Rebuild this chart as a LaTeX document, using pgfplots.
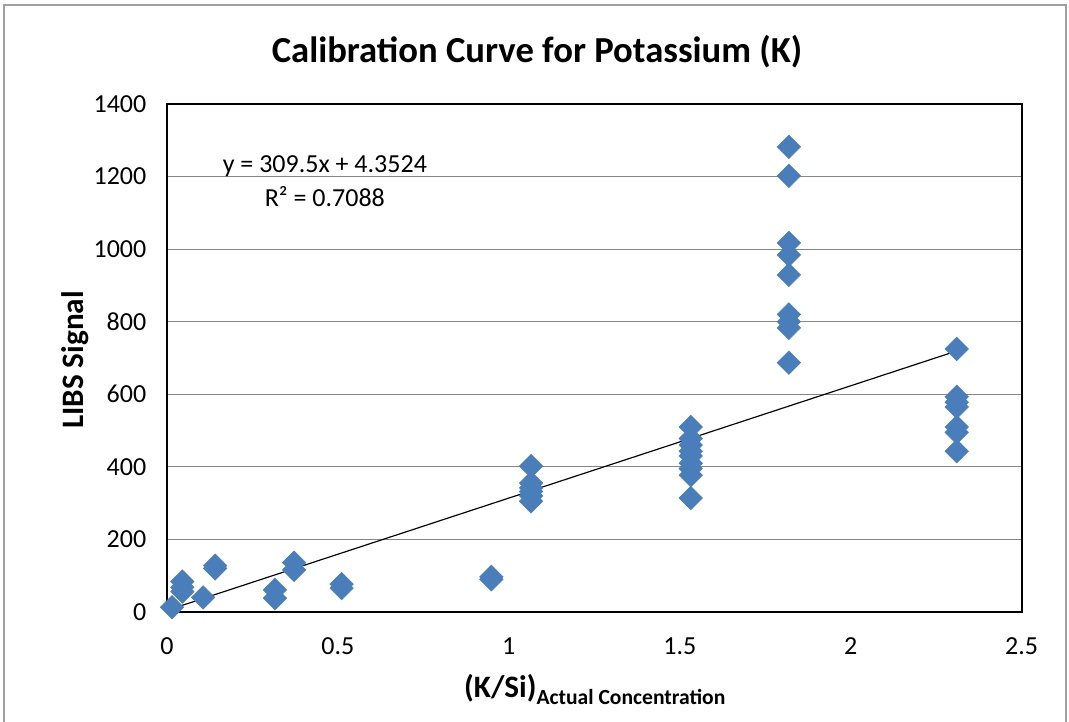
\documentclass[border=0pt]{standalone}
\usepackage{pgfplots}
\pgfplotsset{compat=1.18}
\usepackage{pgfplotstable}
\usepackage{fontspec}
\setmainfont{Carlito}

\definecolor{excelblue}{RGB}{74,126,187}
\definecolor{gridgray}{RGB}{134,134,134}
\definecolor{framegray}{RGB}{160,160,160}

% LIBS signal vs K/Si ratio
\pgfplotstableread{
x     y
0.015 13
0.045 84
0.045 68
0.045 56
0.106 40
0.141 128
0.141 120
0.316 61
0.316 38
0.372 136
0.372 116
0.511 77
0.511 66
0.949 97
0.949 90
1.065 402
1.065 355
1.065 342
1.065 332
1.065 320
1.065 305
1.532 510
1.532 478
1.532 460
1.532 443
1.532 430
1.532 410
1.532 395
1.532 377
1.532 314
1.819 1282
1.819 1202
1.819 1017
1.819 984
1.819 929
1.819 820
1.819 800
1.819 783
1.819 687
2.310 725
2.310 593
2.310 578
2.310 565
2.310 510
2.310 495
2.310 443
}\ksignal

\begin{document}
\begin{tikzpicture}
\useasboundingbox (0,0) rectangle (411.2pt,277.7pt);
\draw[framegray, line width=0.5pt] (1.5pt,-3pt) rectangle (410pt,275.8pt);
\begin{axis}[
  at={(64.2pt,42.3pt)}, anchor=south west,
  scale only axis,
  width=328.8pt, height=195.4pt,
  xmin=0, xmax=2.5, ymin=0, ymax=1400,
  xtick={0,0.5,1,1.5,2,2.5},
  ytick={0,200,400,600,800,1000,1200,1400},
  /pgf/number format/assume math mode=true,
  /pgf/number format/1000 sep={},
  tick label style={font=\fontsize{10}{12}\selectfont},
  yticklabel style={xshift=-4.4pt},
  xticklabel style={yshift=-6.3pt},
  major tick style={draw=none},
  axis line style={black, line width=0.8pt},
  ymajorgrids,
  major grid style={gridgray, line width=0.45pt},
  every axis title shift=0pt,
  title={Calibration Curve for Potassium (K)},
  title style={font=\fontsize{14.1}{17}\selectfont\bfseries,
    at={(rel axis cs:0.433,1.102)}, anchor=center},
  ylabel={LIBS Signal},
  ylabel style={font=\fontsize{12}{14}\selectfont\bfseries,
    at={(rel axis cs:-0.123,0.496)}, anchor=center, yshift=-5pt},
  xlabel={(K/Si)\raisebox{-2.7pt}{\fontsize{8.3}{10}\selectfont Actual Concentration}},
  xlabel style={font=\fontsize{12}{14}\selectfont\bfseries,
    at={(rel axis cs:0.5006,-0.168)}, anchor=base},
]
\addplot[only marks, mark=square*,
  mark options={rotate=45, fill=excelblue, draw=excelblue, line width=0.2pt},
  mark size=3.2pt] table[x=x, y=y] {\ksignal};
\addplot[black, line width=0.45pt] coordinates {(0.015,9.0) (2.31,719.3)};
\node[font=\fontsize{10}{12}\selectfont] at (axis cs:0.462,1229) {y = 309.5x + 4.3524};
\node[font=\fontsize{10}{12}\selectfont] at (axis cs:0.462,1144) {R² = 0.7088};
\end{axis}
\end{tikzpicture}
\end{document}
